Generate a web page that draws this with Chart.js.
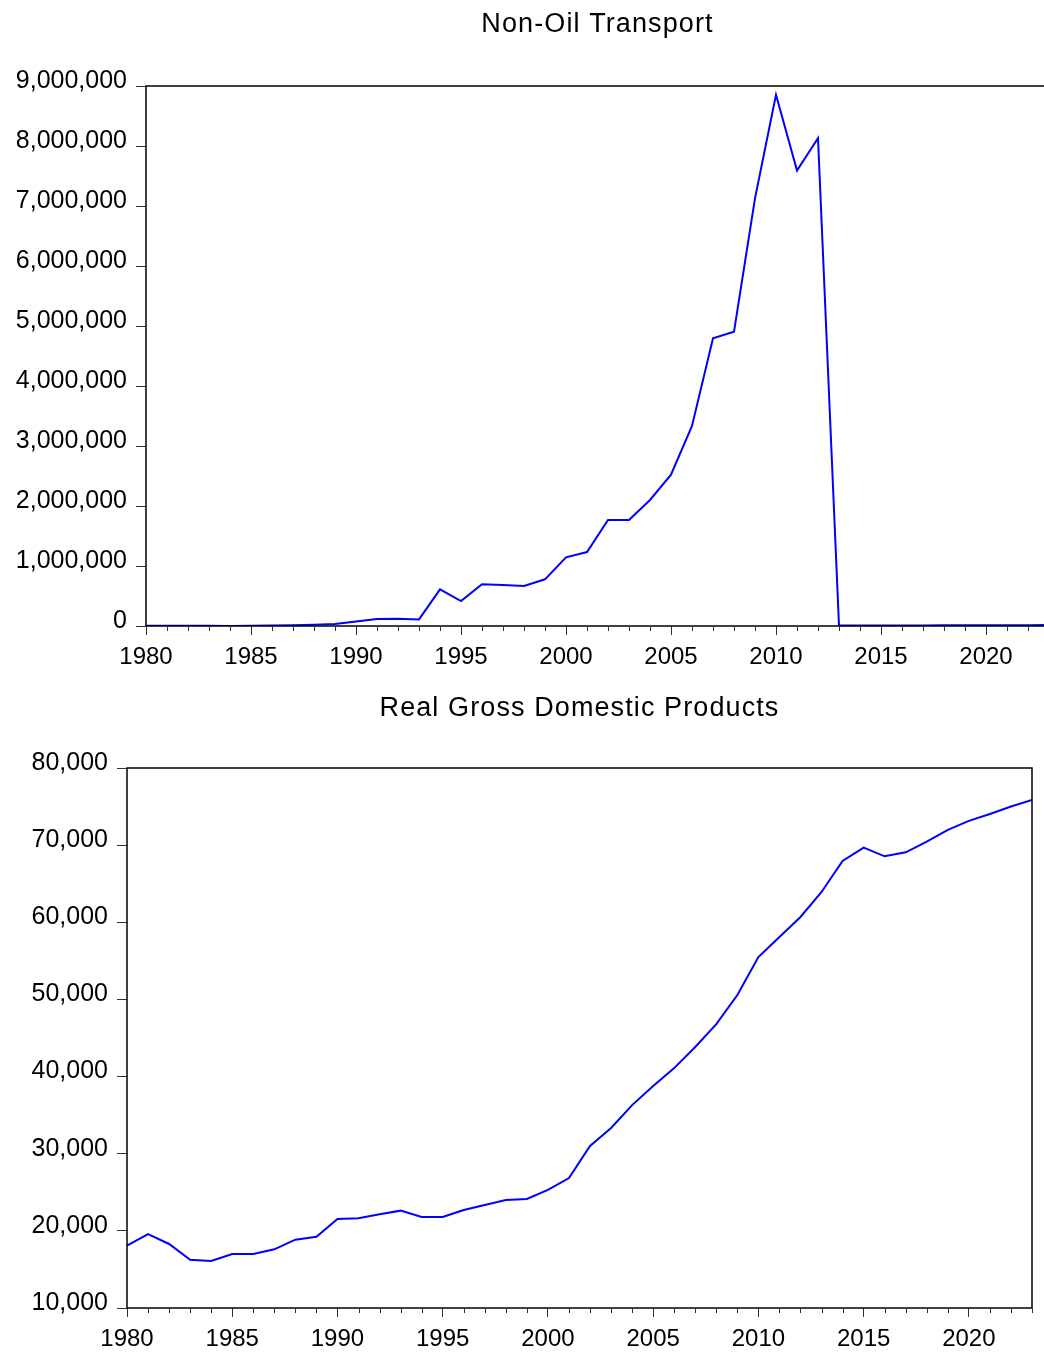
<!DOCTYPE html>
<html lang="en">
<head>
    <meta charset="UTF-8">
    <title>Non-Oil Transport / Real GDP</title>
    <script src="https://cdn.jsdelivr.net/npm/chart.js"></script>
    <style>
        body {
            margin: 0;
            padding: 0;
            background: #fff;
            width: 1044px;
            overflow: hidden;
        }
        .clip {
            width: 1044px;
            overflow: hidden;
        }
        canvas { display: block; }
    </style>
</head>
<body>
    <div class="clip" style="height:690px">
        <canvas id="transportChart" width="1050" height="690"></canvas>
    </div>
    <div class="clip" style="height:663px">
        <canvas id="gdpChart" width="1044" height="663"></canvas>
    </div>

    <script>
        // years shared by both panels
        const years = [];
        for (let y = 1980; y <= 2023; y++) years.push(y);

        // Non-Oil Transport
        const transport = [
            3000, 3000, 3000, 3000, 2000, 3000, 8000, 12000, 20000, 35000,
            75000, 115000, 120000, 110000, 610000, 415000, 695000, 685000, 667000, 778000,
            1145000, 1233000, 1767000, 1767000, 2100000, 2522000, 3333000, 4795000, 4905000, 7128000,
            8855000, 7590000, 8130000, 8000, 9000, 9000, 10000, 10000, 11000, 12000,
            12000, 13000, 14000, 15000
        ];

        // Real Gross Domestic Products
        const realGdp = [
            18080, 19590, 18300, 16260, 16090, 17000, 17000, 17610, 18860, 19240,
            21540, 21630, 22150, 22620, 21800, 21800, 22700, 23350, 24000, 24130,
            25300, 26850, 31000, 33330, 36300, 38780, 41100, 43830, 46800, 50570,
            55500, 58090, 60690, 63930, 67950, 69670, 68550, 69070, 70450, 71970,
            73140, 74040, 75000, 75850
        ];

        const fontFamily = '"Liberation Sans", Arial, sans-serif';

        // title centred over the plot area, frame, and the short yearly ticks
        const decor = {
            id: 'decor',
            afterDraw(chart, args, opts) {
                const ctx = chart.ctx;
                const a = chart.chartArea;
                ctx.save();
                ctx.strokeStyle = '#000';
                ctx.lineWidth = 1.5;
                ctx.strokeRect(a.left, a.top, a.right - a.left, a.bottom - a.top);

                const xs = chart.scales.x;
                ctx.lineWidth = 1;
                ctx.strokeStyle = '#333';
                for (let yr = xs.min; yr <= xs.max; yr++) {
                    if (yr % 5 === 0) continue;
                    const px = Math.round(xs.getPixelForValue(yr)) + 0.5;
                    ctx.beginPath();
                    ctx.moveTo(px, a.bottom);
                    ctx.lineTo(px, a.bottom + 5);
                    ctx.stroke();
                }

                ctx.fillStyle = '#000';
                ctx.font = '27px ' + fontFamily;
                ctx.letterSpacing = '1.1px';
                ctx.textAlign = 'center';
                ctx.textBaseline = 'middle';
                ctx.fillText(opts.text, (a.left + a.right) / 2, opts.y);
                ctx.restore();
            }
        };

        function makeChart(id, values, yMin, yMax, yStep, yWidth, xHeight, pad, title, titleY) {
            const ctx = document.getElementById(id).getContext('2d');
            return new Chart(ctx, {
                type: 'line',
                data: {
                    datasets: [{
                        data: years.map((yr, i) => ({ x: yr, y: values[i] })),
                        borderColor: '#0000ff',
                        borderWidth: 2,
                        pointRadius: 0,
                        tension: 0,
                        fill: false
                    }]
                },
                options: {
                    responsive: false,
                    animation: false,
                    layout: { padding: pad },
                    plugins: {
                        legend: { display: false },
                        tooltip: { enabled: false },
                        decor: { text: title, y: titleY }
                    },
                    scales: {
                        x: {
                            type: 'linear',
                            min: 1980,
                            max: 2023,
                            afterFit: s => { s.height = xHeight; },
                            border: { display: false },
                            grid: { drawOnChartArea: false, tickLength: 9, color: '#333', lineWidth: 1 },
                            ticks: {
                                stepSize: 5,
                                includeBounds: false,
                                maxRotation: 0,
                                autoSkip: false,
                                padding: 8,
                                color: '#000',
                                font: { family: fontFamily, size: 24 },
                                callback: v => String(v)
                            }
                        },
                        y: {
                            min: yMin,
                            max: yMax,
                            afterFit: s => { s.width = yWidth; },
                            border: { display: false },
                            grid: { drawOnChartArea: false, tickLength: 10, color: '#333', lineWidth: 1 },
                            ticks: {
                                stepSize: yStep,
                                padding: 9,
                                labelOffset: -5,
                                color: '#000',
                                font: { family: fontFamily, size: 25 },
                                callback: v => v.toLocaleString('en-US')
                            }
                        }
                    }
                },
                plugins: [decor]
            });
        }

        makeChart('transportChart', transport, 0, 9000000, 1000000, 146, 64,
            { top: 86, right: 1, left: 0, bottom: 0 }, 'Non-Oil Transport', 25);
        makeChart('gdpChart', realGdp, 10000, 80000, 10000, 127, 45,
            { top: 78, right: 12, left: 0, bottom: 0 }, 'Real Gross Domestic Products', 19);
    </script>
</body>
</html>
